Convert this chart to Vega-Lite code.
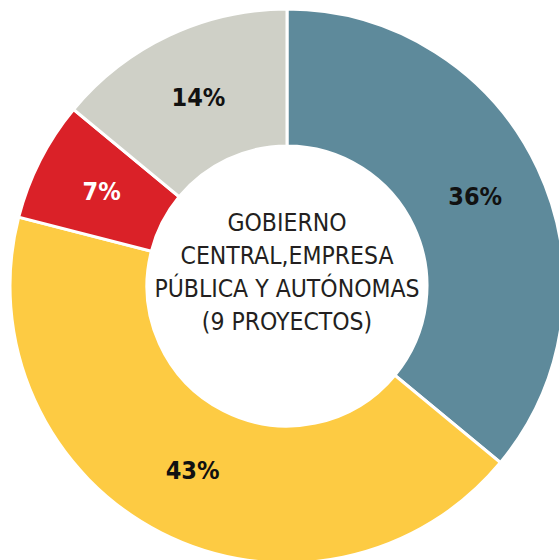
{
  "$schema": "https://vega.github.io/schema/vega-lite/v6.json",
  "width": 534,
  "height": 534,
  "autosize": {"type": "none"},
  "padding": {"left": 20, "top": 19, "right": 5, "bottom": 7},
  "background": "white",
  "view": {"stroke": null},
  "layer": [
    {
      "data": {"values": [
        {"segmento": "Segmento A", "orden": 1, "porcentaje": 36, "etiqueta": "36%"},
        {"segmento": "Segmento B", "orden": 2, "porcentaje": 43, "etiqueta": "43%"},
        {"segmento": "Segmento C", "orden": 3, "porcentaje": 7, "etiqueta": "7%"},
        {"segmento": "Segmento D", "orden": 4, "porcentaje": 14, "etiqueta": "14%"}
      ]},
      "encoding": {
        "theta": {"field": "porcentaje", "type": "quantitative", "stack": true},
        "order": {"field": "orden", "type": "quantitative"}
      },
      "layer": [
        {
          "mark": {"type": "arc", "radius": 277, "innerRadius": 140, "stroke": "white", "strokeWidth": 3},
          "encoding": {
            "color": {
              "field": "segmento",
              "type": "nominal",
              "scale": {
                "domain": ["Segmento A", "Segmento B", "Segmento C", "Segmento D"],
                "range": ["#5E8A9B", "#FDCB43", "#DA2128", "#CFD0C7"]
              },
              "legend": null
            }
          }
        },
        {
          "mark": {
            "type": "text",
            "radius": 208,
            "fontSize": 25,
            "fontWeight": "bold",
            "font": "DejaVu Sans Condensed, sans-serif",
            "align": "center",
            "baseline": "middle"
          },
          "encoding": {
            "text": {"field": "etiqueta", "type": "nominal"},
            "color": {
              "condition": {"test": "datum.segmento === 'Segmento C'", "value": "#FFFFFF"},
              "value": "#111111"
            }
          }
        }
      ]
    },
    {
      "data": {"values": [
        {"texto": "GOBIERNO|CENTRAL,EMPRESA|PÚBLICA Y AUTÓNOMAS|(9 PROYECTOS)"}
      ]},
      "mark": {
        "type": "text",
        "lineBreak": "|",
        "lineHeight": 33,
        "fontSize": 24.5,
        "font": "DejaVu Sans Condensed, sans-serif",
        "align": "center",
        "baseline": "middle",
        "dy": -62,
        "color": "#231F20"
      },
      "encoding": {
        "text": {"field": "texto", "type": "nominal"}
      }
    }
  ]
}
